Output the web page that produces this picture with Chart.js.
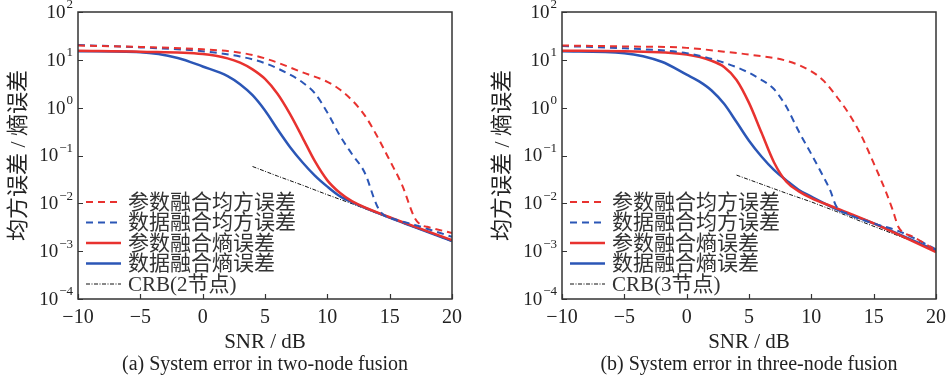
<!DOCTYPE html>
<html>
<head>
<meta charset="utf-8">
<script src="https://cdn.jsdelivr.net/npm/chart.js@4.4.1/dist/chart.umd.min.js"></script>
<style>
  html, body { margin: 0; padding: 0; background: #fff; }
  #wrap { position: relative; width: 951px; height: 377px; overflow: hidden; }
  .panel { position: absolute; top: 0; width: 467px; height: 377px; }
  .cap {
    position: absolute; top: 351px; height: 24px; line-height: 24px;
    font-family: "Liberation Serif", "Noto Sans CJK SC", serif; font-size: 20px;
    color: #222; text-align: center; white-space: nowrap;
  }
</style>
</head>
<body>
<div id="wrap">
  <div class="panel" style="left:0"><canvas id="chartA" width="467" height="377"></canvas></div>
  <div class="panel" style="left:484px"><canvas id="chartB" width="467" height="377"></canvas></div>
  <div class="cap" style="left:78px;width:374px">(a) System error in two-node fusion</div>
  <div class="cap" style="left:562px;width:374px">(b) System error in three-node fusion</div>
</div>
<script>
const FONT = '"Liberation Serif", "Noto Sans CJK SC", serif';
const RED = '#e8322f';
const BLUE = '#2b56b6';

const xTicks = [-10, -5, 0, 5, 10, 15, 20];
const yTickExps = [-4, -3, -2, -1, 0, 1, 2];
const seriesLabels = ['参数融合均方误差', '数据融合均方误差', '参数融合熵误差', '数据融合熵误差'];
const crbLabelA = 'CRB(2节点)';
const crbLabelB = 'CRB(3节点)';

// values as log10 of the error

// (a) two-node fusion
const snrParamMseA = [-10, -5, 0, 3, 5, 8, 10, 11, 12, 13, 14, 15, 16, 17, 17.5, 18, 20];
const paramMseA = [1.30, 1.27, 1.22, 1.15, 1.03, 0.74, 0.54, 0.38, 0.15, -0.16, -0.60, -1.10, -1.62, -2.30, -2.45, -2.49, -2.62];
const snrDataMseA = [-10, -5, 0, 3, 5, 7, 8, 9, 10, 11, 12, 13, 14, 14.5, 15, 17, 20];
const dataMseA = [1.31, 1.26, 1.18, 1.07, 0.93, 0.69, 0.53, 0.30, -0.10, -0.58, -0.98, -1.36, -2.06, -2.24, -2.30, -2.45, -2.70];
const snrParamEntA = [-10, -5, 0, 2, 3, 4, 5, 6, 7, 8, 9, 10, 11, 12, 15, 20];
const paramEntA = [1.19, 1.17, 1.12, 1.03, 0.94, 0.80, 0.60, 0.29, -0.13, -0.62, -1.12, -1.52, -1.78, -1.96, -2.29, -2.77];
const snrDataEntA = [-10, -5, -2, 0, 2, 3, 4, 5, 6, 7, 8, 9, 10, 11, 12, 15, 20];
const dataEntA = [1.18, 1.16, 1.04, 0.86, 0.66, 0.49, 0.26, -0.06, -0.45, -0.82, -1.14, -1.42, -1.65, -1.85, -1.98, -2.30, -2.79];
const snrCrbA = [4, 6, 8, 10, 12, 14, 16, 18, 20];
const crbA = [-1.23, -1.43, -1.62, -1.82, -2.01, -2.21, -2.41, -2.60, -2.80];

// (b) three-node fusion
const snrParamMseB = [-10, -5, 0, 3, 5, 8, 10, 11, 12, 13, 14, 15, 16, 16.5, 17, 17.5, 18, 20];
const paramMseB = [1.30, 1.28, 1.25, 1.17, 1.11, 0.98, 0.76, 0.56, 0.24, -0.12, -0.58, -1.16, -1.77, -2.12, -2.50, -2.63, -2.68, -2.98];
const snrDataMseB = [-10, -5, 0, 3, 5, 6, 6.5, 7, 7.5, 8, 9, 10, 11, 11.5, 12, 13, 15, 17, 20];
const dataMseB = [1.29, 1.24, 1.14, 0.94, 0.73, 0.58, 0.50, 0.39, 0.22, 0.02, -0.50, -0.97, -1.46, -1.72, -2.06, -2.23, -2.42, -2.58, -2.96];
const snrParamEntB = [-10, -5, 0, 2, 3, 4, 5, 6, 7, 8, 9, 10, 12, 15, 20];
const paramEntB = [1.19, 1.18, 1.11, 0.98, 0.85, 0.58, 0.10, -0.52, -1.14, -1.55, -1.75, -1.89, -2.10, -2.42, -3.02];
const snrDataEntB = [-10, -5, -2, 0, 1, 2, 3, 4, 5, 6, 7, 8, 9, 10, 12, 15, 20];
const dataEntB = [1.18, 1.14, 0.96, 0.69, 0.55, 0.36, 0.08, -0.30, -0.69, -1.02, -1.30, -1.52, -1.72, -1.86, -2.12, -2.42, -2.99];
const snrCrbB = [4, 6, 8, 10, 12, 14, 16, 18, 20];
const crbB = [-1.41, -1.60, -1.79, -1.97, -2.17, -2.38, -2.58, -2.78, -2.99];

function pts(xs, logs) {
  return xs.map((x, i) => ({ x: x, y: Math.pow(10, logs[i]) }));
}

function curve(label, xs, logs, color, dashed) {
  return {
    label: label,
    data: pts(xs, logs),
    borderColor: color,
    borderWidth: dashed ? 2 : 2.5,
    borderDash: dashed ? [7, 5] : [],
    pointRadius: 0,
    cubicInterpolationMode: 'monotone',
    fill: false,
  };
}

function crbSet(label, xs, logs) {
  return {
    label: label,
    data: pts(xs, logs),
    borderColor: '#111',
    borderWidth: 1,
    borderDash: [4, 1.5, 1, 1.5],
    pointRadius: 0,
    tension: 0,
    fill: false,
  };
}

// frame, inward ticks, superscript y labels and the legend inside the plot
const decorPlugin = {
  id: 'decor',
  afterDraw(chart) {
    const { ctx, chartArea: a, scales } = chart;
    ctx.save();
    ctx.strokeStyle = '#333';
    ctx.lineWidth = 1.5;
    ctx.strokeRect(a.left, a.top, a.right - a.left, a.bottom - a.top);

    ctx.lineWidth = 1.2;
    ctx.beginPath();
    scales.x.ticks.forEach(t => {
      const px = Math.round(scales.x.getPixelForValue(t.value)) + 0.5;
      ctx.moveTo(px, a.bottom);
      ctx.lineTo(px, a.bottom - 5);
    });
    scales.y.ticks.forEach(t => {
      const py = Math.round(scales.y.getPixelForValue(t.value)) + 0.5;
      ctx.moveTo(a.left, py);
      ctx.lineTo(a.left + 5, py);
    });
    ctx.stroke();

    // y tick labels as 10 with superscript exponent
    ctx.fillStyle = '#222';
    ctx.textBaseline = 'middle';
    const right = a.left - 5;
    scales.y.ticks.forEach(t => {
      const py = scales.y.getPixelForValue(t.value);
      const e = Math.round(Math.log10(t.value));
      const expTxt = String(e).replace('-', '\u2212');
      ctx.font = '13px ' + FONT;
      const we = ctx.measureText(expTxt).width;
      ctx.textAlign = 'left';
      ctx.fillText(expTxt, right - we, py - 7);
      ctx.font = '19px ' + FONT;
      ctx.textAlign = 'right';
      ctx.fillText('10', right - we - 1, py + 1);
    });

    // legend
    const sets = chart.data.datasets;
    const rowGap = 20.5;
    ctx.font = '21px ' + FONT;
    ctx.textAlign = 'left';
    sets.forEach((ds, i) => {
      const y = a.bottom - 15 - (sets.length - 1 - i) * rowGap;
      ctx.beginPath();
      ctx.strokeStyle = ds.borderColor;
      ctx.lineWidth = ds.borderWidth;
      ctx.setLineDash(ds.borderDash || []);
      ctx.moveTo(a.left + 8, y);
      ctx.lineTo(a.left + 43, y);
      ctx.stroke();
      ctx.setLineDash([]);
      ctx.fillStyle = '#333';
      ctx.fillText(ds.label, a.left + 50, y + 1);
    });
    ctx.restore();
  }
};

function makeChart(id, datasets) {
  return new Chart(document.getElementById(id), {
    type: 'line',
    data: { datasets: datasets },
    options: {
      responsive: false,
      animation: false,
      layout: { padding: { top: 12, right: 15, bottom: 22, left: 0 } },
      plugins: { legend: { display: false }, tooltip: { enabled: false } },
      scales: {
        x: {
          type: 'linear',
          min: -10,
          max: 20,
          afterBuildTicks: s => { s.ticks = xTicks.map(v => ({ value: v })); },
          afterFit: s => {
            s.height = 56;
            s.paddingLeft = 0;
            s.paddingRight = 0;
          },
          grid: { display: false, drawTicks: false },
          border: { display: false },
          ticks: {
            color: '#222',
            padding: 7,
            maxRotation: 0,
            font: { family: FONT, size: 20 },
            callback: v => String(v).replace('-', '\u2212'),
          },
          title: {
            display: true,
            text: 'SNR / dB',
            color: '#222',
            padding: 0,
            font: { family: FONT, size: 21 },
          },
        },
        y: {
          type: 'logarithmic',
          min: 1e-4,
          max: 1e2,
          afterBuildTicks: s => { s.ticks = yTickExps.map(e => ({ value: Math.pow(10, e) })); },
          afterFit: s => { s.width = 78; },
          grid: { display: false, drawTicks: false },
          border: { display: false },
          ticks: { display: false },
          title: {
            display: true,
            text: '均方误差 / 熵误差',
            color: '#222',
            padding: { top: 6, bottom: 0 },
            font: { family: FONT, size: 22 },
          },
        },
      },
    },
    plugins: [decorPlugin],
  });
}

makeChart('chartA', [
  curve(seriesLabels[0], snrParamMseA, paramMseA, RED, true),
  curve(seriesLabels[1], snrDataMseA, dataMseA, BLUE, true),
  curve(seriesLabels[2], snrParamEntA, paramEntA, RED, false),
  curve(seriesLabels[3], snrDataEntA, dataEntA, BLUE, false),
  crbSet(crbLabelA, snrCrbA, crbA),
]);

makeChart('chartB', [
  curve(seriesLabels[0], snrParamMseB, paramMseB, RED, true),
  curve(seriesLabels[1], snrDataMseB, dataMseB, BLUE, true),
  curve(seriesLabels[2], snrParamEntB, paramEntB, RED, false),
  curve(seriesLabels[3], snrDataEntB, dataEntB, BLUE, false),
  crbSet(crbLabelB, snrCrbB, crbB),
]);
</script>
</body>
</html>
